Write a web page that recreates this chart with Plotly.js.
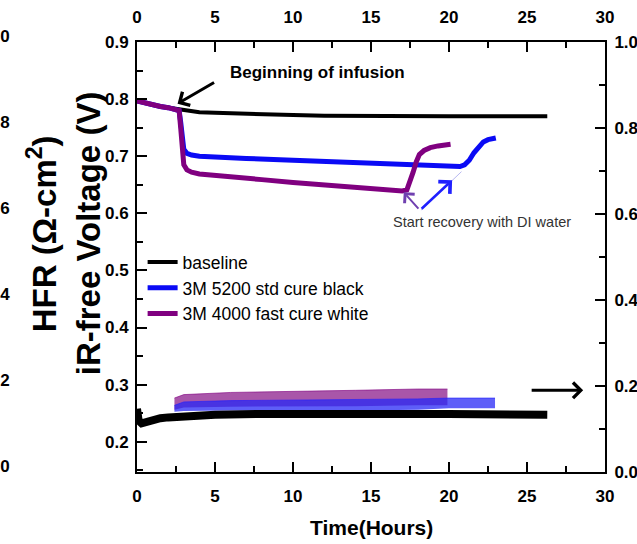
<!DOCTYPE html>
<html><head><meta charset="utf-8">
<script src="https://cdn.plot.ly/plotly-3.0.1.min.js"></script>
<style>html,body{margin:0;padding:0;background:#fff;}#chart{width:637px;height:544px;}</style>
</head><body><div id="chart"></div>
<script>
const FONT = 'Liberation Sans, Arial, Helvetica, sans-serif';

// ---- iR-free voltage (left axis) ----
const tBase = [0, 0.5, 1, 1.5, 2, 2.5, 2.7, 3, 3.5, 4, 5, 6, 8, 10, 12, 15, 18, 20, 22, 24, 26.3];
const vBase = [0.797, 0.793, 0.790, 0.787, 0.785, 0.782, 0.781, 0.780, 0.778, 0.777, 0.776, 0.775, 0.773, 0.772, 0.771, 0.770, 0.770, 0.770, 0.770, 0.770, 0.770];

const tBlue = [0, 0.5, 1, 1.5, 2, 2.5, 2.7, 2.8, 2.9, 3.0, 3.2, 3.5, 4, 5, 7, 10, 13, 15, 18, 20, 20.7, 21.0, 21.3, 21.6, 21.9, 22.2, 22.5, 23.0];
const vBlue = [0.797, 0.793, 0.790, 0.787, 0.785, 0.782, 0.780, 0.760, 0.730, 0.712, 0.705, 0.702, 0.700, 0.698, 0.696, 0.693, 0.690, 0.688, 0.685, 0.683, 0.682, 0.685, 0.693, 0.706, 0.717, 0.725, 0.729, 0.732];

const tPurp = [0, 0.5, 1, 1.5, 2, 2.5, 2.7, 2.8, 2.9, 3.0, 3.2, 3.5, 4, 5, 6, 7, 8, 10, 12, 14, 15, 16, 17.0, 17.3, 17.5, 17.7, 17.9, 18.1, 18.4, 18.8, 19.3, 19.8, 20.1];
const vPurp = [0.797, 0.793, 0.790, 0.787, 0.785, 0.782, 0.780, 0.750, 0.700, 0.685, 0.676, 0.672, 0.669, 0.666, 0.663, 0.661, 0.659, 0.654, 0.650, 0.645, 0.642, 0.640, 0.639, 0.641, 0.655, 0.672, 0.690, 0.703, 0.710, 0.715, 0.718, 0.720, 0.721];

// ---- HFR (right axis) ----
const tHfrBase = [0, 0.1, 0.3, 0.6, 1, 1.5, 2, 3, 5, 8, 10, 15, 20, 25, 26.3];
const hfrBase = [0.147, 0.120, 0.113, 0.117, 0.121, 0.125, 0.127, 0.130, 0.133, 0.135, 0.136, 0.135, 0.135, 0.133, 0.133];

const tHfrPurp = [2.4, 3, 6, 10, 14, 18, 19.9];
const hfrPurpHi = [0.172, 0.180, 0.185, 0.187, 0.190, 0.193, 0.193];
const hfrPurpLo = [0.145, 0.150, 0.152, 0.152, 0.153, 0.155, 0.155];

const tHfrBlue = [2.4, 3, 6, 10, 14, 18, 20, 22.95];
const hfrBlueHi = [0.155, 0.163, 0.166, 0.167, 0.168, 0.170, 0.172, 0.172];
const hfrBlueLo = [0.140, 0.142, 0.143, 0.143, 0.143, 0.145, 0.148, 0.148];

const seriesNames = ['baseline', '3M 5200 std cure black', '3M 4000 fast cure white'];
const rightTickLabels = ['1.0', '0.8', '0.6', '0.4', '0.2', '0.0'];
const rightTickValues = [1.0, 0.8, 0.6, 0.4, 0.2, 0.0];

const BLACK = '#000000', BLUE = '#0a0af5', PURPLE = '#800080';

const traces = [
  {x: tHfrPurp, y: hfrPurpLo, xaxis: 'x2', yaxis: 'y2', mode: 'lines', line: {width: 0, color: PURPLE}, showlegend: false, hoverinfo: 'skip'},
  {x: tHfrPurp, y: hfrPurpHi, xaxis: 'x2', yaxis: 'y2', mode: 'lines', line: {width: 1, color: 'rgba(128,0,128,0.6)'}, fill: 'tonexty', fillcolor: 'rgba(140,30,140,0.75)', showlegend: false, hoverinfo: 'skip'},
  {x: tHfrBlue, y: hfrBlueLo, xaxis: 'x2', yaxis: 'y2', mode: 'lines', line: {width: 0, color: BLUE}, showlegend: false, hoverinfo: 'skip'},
  {x: tHfrBlue, y: hfrBlueHi, xaxis: 'x2', yaxis: 'y2', mode: 'lines', line: {width: 1, color: 'rgba(30,30,255,0.6)'}, fill: 'tonexty', fillcolor: 'rgba(40,40,245,0.75)', showlegend: false, hoverinfo: 'skip'},
  {x: tHfrBase, y: hfrBase, xaxis: 'x2', yaxis: 'y2', mode: 'lines', line: {width: 8, color: BLACK}, showlegend: false, hoverinfo: 'skip'},
  {x: tBase, y: vBase, mode: 'lines', name: seriesNames[0], line: {width: 4, color: BLACK}},
  {x: tBlue, y: vBlue, mode: 'lines', name: seriesNames[1], line: {width: 5, color: BLUE}},
  {x: tPurp, y: vPurp, mode: 'lines', name: seriesNames[2], line: {width: 5, color: PURPLE}}
];

const tickFont = {family: FONT, size: 17, color: '#000', weight: 'bold'};
function baseAxis(extra) {
  return Object.assign({
    showline: true, linewidth: 2, linecolor: '#000', mirror: false,
    ticks: 'inside', ticklen: 10, tickwidth: 2, tickcolor: '#000',
    showgrid: false, zeroline: false, tickfont: tickFont, automargin: false
  }, extra);
}

const annFont = (size, bold, color) => ({family: FONT, size: size, color: color || '#000', weight: bold ? 'bold' : 'normal'});

const annotations = [
  {xref: 'x', yref: 'y', x: 11.6, y: 0.847, text: 'Beginning of infusion', showarrow: false, font: annFont(17, true)},
  {xref: 'x', yref: 'y', x: 2.6, y: 0.792, ax: 38, ay: -22, text: '', showarrow: true, arrowhead: 4, arrowsize: 1, arrowwidth: 3, arrowcolor: '#000'},
  {xref: 'x', yref: 'y', x: 22.1, y: 0.584, text: 'Start recovery with DI water', showarrow: false, font: annFont(14.5, false, '#333')},
  {xref: 'x', yref: 'y', x: 17.1, y: 0.637, ax: 16, ay: 18, text: '', showarrow: true, arrowhead: 4, arrowsize: 1.3, arrowwidth: 2, arrowcolor: '#7040b0'},
  {xref: 'x', yref: 'y', x: 20.8, y: 0.673, ax: -42, ay: 40, text: '', showarrow: true, arrowhead: 0, arrowwidth: 1, arrowcolor: '#b8b8f0'},
  {xref: 'x', yref: 'y', x: 20.2, y: 0.658, ax: -32, ay: 30, text: '', showarrow: true, arrowhead: 4, arrowsize: 1.3, arrowwidth: 2.5, arrowcolor: '#2020ff'},
  {xref: 'x2', yref: 'y2', x: 28.6, y: 0.19, ax: -53, ay: 0, text: '', showarrow: true, arrowhead: 4, arrowsize: 1, arrowwidth: 3, arrowcolor: '#000'},
  {xref: 'paper', yref: 'paper', x: -0.203, y: 0.555, xanchor: 'center', yanchor: 'middle', text: 'HFR (Ω-cm<sup>2</sup>)', textangle: -90, showarrow: false, font: annFont(33, true)},
  {xref: 'paper', yref: 'paper', x: -0.105, y: 0.555, xanchor: 'center', yanchor: 'middle', text: 'iR-free Voltage (V)', textangle: -90, showarrow: false, font: annFont(33, true)},
  {xref: 'paper', yref: 'paper', x: 0.5, y: -0.130, xanchor: 'center', yanchor: 'middle', text: 'Time(Hours)', showarrow: false, font: annFont(21, true)}
];
rightTickValues.forEach((v, i) => {
  annotations.push({xref: 'paper', yref: 'y2', x: -0.267, y: v, yshift: 6, xanchor: 'right', yanchor: 'middle', text: rightTickLabels[i], showarrow: false, font: annFont(17, true)});
});

const layout = {
  width: 637, height: 544,
  margin: {l: 137, r: 32, t: 42, b: 72, pad: 0},
  paper_bgcolor: '#fff', plot_bgcolor: '#fff',
  showlegend: true,
  legend: {x: 0.012, xanchor: 'left', y: 0.53, yanchor: 'top', bgcolor: 'rgba(0,0,0,0)', traceorder: 'normal',
           font: {family: FONT, size: 17.5, color: '#000'}, tracegroupgap: 0, itemwidth: 30},
  xaxis: baseAxis({range: [0, 30], tick0: 0, dtick: 5, ticklabelstandoff: 8,
    minor: {dtick: 2.5, ticks: 'inside', ticklen: 6, tickwidth: 2, tickcolor: '#000', showgrid: false}}),
  xaxis2: baseAxis({range: [0, 30], tick0: 0, dtick: 5, overlaying: 'x', side: 'top', ticklabelstandoff: 10,
    minor: {dtick: 2.5, ticks: 'inside', ticklen: 6, tickwidth: 2, tickcolor: '#000', showgrid: false}}),
  yaxis: baseAxis({range: [0.147, 0.9], tick0: 0, dtick: 0.1, tickformat: '.1f', ticklabelstandoff: 3,
    minor: {dtick: 0.05, ticks: 'inside', ticklen: 6, tickwidth: 2, tickcolor: '#000', showgrid: false}}),
  yaxis2: baseAxis({range: [0, 1], tick0: 0, dtick: 0.2, tickformat: '.1f', overlaying: 'y', side: 'right', ticklabelstandoff: 4,
    minor: {dtick: 0.1, ticks: 'inside', ticklen: 6, tickwidth: 2, tickcolor: '#000', showgrid: false}}),
  annotations: annotations
};

Plotly.newPlot('chart', traces, layout, {displayModeBar: false, staticPlot: true});
</script>
</body></html>
